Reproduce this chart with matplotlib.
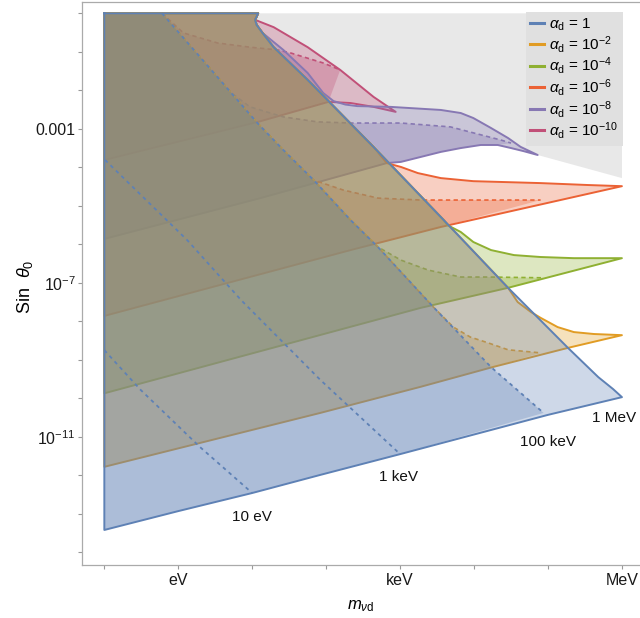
import matplotlib
matplotlib.use('Agg')
import matplotlib.pyplot as plt
from matplotlib.lines import Line2D
import numpy as np

plt.rcParams['font.family'] = ['Liberation Sans', 'DejaVu Sans']
plt.rcParams['mathtext.fontset'] = 'custom'
plt.rcParams['mathtext.rm'] = 'Liberation Sans'
plt.rcParams['mathtext.it'] = 'Liberation Sans:italic'
plt.rcParams['mathtext.bf'] = 'Liberation Sans:bold'

# every value is log10: x = log10(m / eV), y = log10(sin theta0)

# right edge shared by all regions (alpha_d = 1 boundary)
diag_x = [1.08, 1.04, 1.06, 1.14, 1.29, 1.75, 2.64, 3.59, 4.46, 5.27, 5.68, 5.88, 6.0]
diag_y = [0.0, -0.17, -0.30, -0.51, -0.88, -1.73, -3.47, -5.37, -7.13, -8.69, -9.45, -9.76, -9.97]

# 100 keV contour, the dashed curves run along it before they bend off
l3_x = [-0.22, 1.07, 1.42, 1.83, 2.33, 2.70, 3.45, 4.23, 4.94]
l3_y = [0.0, -2.85, -3.55, -4.33, -5.37, -6.07, -7.63, -9.19, -10.38]

# 10 eV and 1 keV contours
l1_x = [-1.0, -0.51, 0.29, 1.0]
l1_y = [-8.75, -9.78, -11.26, -12.46]
l2_x = [-0.99, 0.12, 0.85, 1.92, 3.0]
l2_y = [-3.81, -5.89, -7.45, -9.52, -11.45]

labels = [r'$\alpha_{\rm d}$ = 1', r'$\alpha_{\rm d}$ = 10$^{-2}$', r'$\alpha_{\rm d}$ = 10$^{-4}$',
          r'$\alpha_{\rm d}$ = 10$^{-6}$', r'$\alpha_{\rm d}$ = 10$^{-8}$', r'$\alpha_{\rm d}$ = 10$^{-10}$']
colors = ['#5E81B5', '#E19C24', '#8FB032', '#EB6235', '#8778B3', '#C15078']

# tail: from where it leaves the shared edge to the tip
tails_x = [
    [6.0],
    [4.46, 4.59, 4.77, 4.90, 5.13, 5.35, 5.62, 6.0],
    [3.64, 3.82, 3.99, 4.23, 4.54, 4.90, 5.35, 6.0],
    [2.82, 3.01, 3.24, 3.55, 3.99, 4.90, 5.54, 6.0],
    [1.14, 1.42, 1.75, 1.96, 2.10, 2.26, 2.42, 2.87, 3.55, 3.82, 3.99, 4.23, 4.46, 4.63, 4.86],
    [1.04, 1.29, 1.75, 2.19, 2.64, 2.94],
]
tails_y = [
    [-9.97],
    [-7.13, -7.50, -7.76, -7.91, -8.15, -8.28, -8.33, -8.36],
    [-5.50, -5.68, -5.94, -6.15, -6.28, -6.33, -6.36, -6.36],
    [-3.89, -3.99, -4.15, -4.28, -4.36, -4.41, -4.46, -4.49],
    [-0.51, -0.95, -1.55, -2.07, -2.28, -2.37, -2.41, -2.43, -2.51, -2.59, -2.72, -2.98, -3.24, -3.47, -3.68],
    [-0.17, -0.36, -0.88, -1.47, -2.17, -2.56],
]
# lower edge: from the tip back to the left edge
lows_x = [
    [6.0, 5.0, 3.0, 1.92, 1.0, 0.0, -1.0],
    [6.0, 5.27, 4.25, 3.28, 1.92, -1.0],
    [6.0, 4.46, 3.28, -1.0],
    [6.0, 3.55, 2.33, -1.0],
    [4.86, 4.67, 4.50, 4.32, 4.09, 3.82, 3.55, 3.28, 3.01, 2.82, 1.11, -1.0],
    [2.94, 2.64, 2.33, 2.03, 1.08, -1.0],
]
lows_y = [
    [-9.97, -10.43, -11.45, -11.99, -12.46, -12.93, -13.42],
    [-8.36, -8.69, -9.19, -9.70, -10.38, -11.78],
    [-6.36, -7.13, -7.65, -9.87],
    [-4.49, -5.55, -6.15, -7.86],
    [-3.68, -3.58, -3.50, -3.42, -3.42, -3.50, -3.60, -3.73, -3.86, -3.89, -4.80, -5.86],
    [-2.56, -2.43, -2.33, -2.30, -2.82, -3.81],
]
# dashed curves: from where they leave the 100 keV contour
dashes_x = [
    [4.94],
    [3.45, 3.72, 3.95, 4.19, 4.46, 4.90],
    [2.70, 3.01, 3.38, 3.82, 4.19, 4.94],
    [1.83, 2.23, 2.70, 3.28, 3.82, 4.90],
    [0.72, 0.97, 1.42, 1.88, 2.33, 3.01, 3.68, 4.36, 4.50],
    [-0.22, 0.07, 0.53, 0.97, 1.34, 1.52, 1.96, 2.19],
]
dashes_y = [
    [-10.38],
    [-7.63, -8.15, -8.41, -8.56, -8.74, -8.82],
    [-6.07, -6.41, -6.67, -6.85, -6.85, -6.87],
    [-4.33, -4.59, -4.80, -4.85, -4.85, -4.85],
    [-2.07, -2.43, -2.69, -2.82, -2.85, -2.85, -2.95, -3.29, -3.37],
    [0.0, -0.51, -0.77, -0.88, -0.95, -1.03, -1.29, -1.47],
]

# grey excluded corner (right edge), closed by the alpha = 1e-8 lower edge
gray_x = [6.0, 6.0]
gray_y = [0.0, -4.28]

mass_text = ['10 eV', '1 keV', '100 keV', '1 MeV']
mass_text_x = [1.0, 2.98, 5.0, 5.60]
mass_text_y = [-13.09, -12.04, -11.13, -10.51]

xtick_exp = [-1, 0, 1, 2, 3, 4, 5, 6]
xtick_lab = ['', 'eV', '', '', 'keV', '', '', 'MeV']
ytick_exp = list(range(-14, 1))
ytick_lab = ['', '', '', r'10$^{-11}$', '', '', '', r'10$^{-7}$', '', '', '', '0.001', '', '', '']

fig = plt.figure(figsize=(6.4, 6.18), dpi=100)
ax = fig.add_axes([82 / 640, 53 / 618, 558 / 640, 563 / 618])
ax.set_xscale('log')
ax.set_yscale('log')


def p(xs, ys):
    return 10.0 ** np.array(xs), 10.0 ** np.array(ys)


dx = np.array(diag_x)
dy = np.array(diag_y)
lx = np.array(l3_x)
ly = np.array(l3_y)

# grey corner
pl_x, pl_y = lows_x[4], lows_y[4]
k = pl_x.index(2.82)
gx = [diag_x[0]] + gray_x + pl_x[:k + 1] + list(dx[dy > pl_y[k]][::-1])
gy = [0.0] + gray_y + pl_y[:k + 1] + list(dy[dy > pl_y[k]][::-1])
ax.fill(*p(gx, gy), color='#e8e8e8', lw=0, zorder=0.5)

# draw smallest alpha first, alpha = 1 ends on top
z = 1
for i in range(5, -1, -1):
    c = colors[i]
    rx = [-1.0] + list(dx[dy > tails_y[i][0]]) + tails_x[i] + lows_x[i][1:]
    ry = [0.0] + list(dy[dy > tails_y[i][0]]) + tails_y[i] + lows_y[i][1:]
    rx.append(rx[0])
    ry.append(ry[0])
    ax.fill(*p(rx, ry), color=c, alpha=0.3, lw=0, zorder=z)

    # inner part bounded by the dashed curve
    cx = list(lx[ly > dashes_y[i][0]]) + dashes_x[i]
    cy = list(ly[ly > dashes_y[i][0]]) + dashes_y[i]
    lo_x = np.array(lows_x[i])
    lo_y = np.array(lows_y[i])
    sx = [-1.0] + cx + list(lo_x[lo_x < cx[-1]])
    sy = [0.0] + cy + list(lo_y[lo_x < cx[-1]])
    ax.fill(*p(sx, sy), color=c, alpha=0.3, lw=0, zorder=z + 0.1)

    ax.plot(*p(rx, ry), color=c, lw=1.4, solid_joinstyle='round', zorder=z + 0.2)
    if i == 0:
        ax.plot(*p(cx, cy), color=c, lw=1.3, dashes=(2, 2.2), zorder=z + 0.3)
    else:
        ax.plot(*p(cx, cy), color=c, lw=1.2, dashes=(2.6, 2), zorder=z + 0.3)
    z += 1

ax.plot(*p(l1_x, l1_y), color=colors[0], lw=1.3, dashes=(2, 2.2), zorder=z)
ax.plot(*p(l2_x, l2_y), color=colors[0], lw=1.3, dashes=(2, 2.2), zorder=z)

for t, tx, ty in zip(mass_text, mass_text_x, mass_text_y):
    ax.text(10 ** tx, 10 ** ty, t, fontsize=11, ha='left' if t == '1 MeV' else 'center',
            va='center', color='#111111', clip_on=False, zorder=z + 1)

ax.set_xlim(10 ** -1.302, 10 ** 6.244)
ax.set_ylim(10 ** -14.33, 10 ** 0.294)
ax.set_xticks(10.0 ** np.array(xtick_exp))
ax.set_xticklabels(xtick_lab)
ax.set_yticks(10.0 ** np.array(ytick_exp))
ax.set_yticklabels(ytick_lab)
ax.minorticks_off()
ax.tick_params(direction='out', length=3, width=0.8, color='#999999',
               labelsize=11.5, labelcolor='#1a1a1a')
ax.tick_params(axis='x', pad=3)
ax.tick_params(axis='y', pad=1.5)
for s in ['left', 'bottom', 'top']:
    ax.spines[s].set_color('#aaaaaa')
    ax.spines[s].set_linewidth(0.9)
ax.spines['right'].set_visible(False)

fig.text(361 / 640, 1 - 606 / 618, r'$m_{\nu\mathrm{d}}$', fontsize=12, ha='center', va='center')
fig.text(25 / 640, 1 - 287 / 618, r'Sin  $\theta_0$', fontsize=13, rotation=90,
         ha='center', va='center')

handles = [Line2D([], [], color=c, lw=2.2) for c in colors]
leg = ax.legend(handles, labels, loc='upper right', bbox_to_anchor=(0.9695, 0.982),
                borderaxespad=0, fontsize=11, frameon=True, fancybox=False,
                facecolor='#e0e0e0', edgecolor='none', framealpha=1,
                handlelength=0.9, handletextpad=0.35, labelspacing=0.04, borderpad=0.3)
leg.set_zorder(z + 2)

fig.savefig('out.png', dpi=100)
